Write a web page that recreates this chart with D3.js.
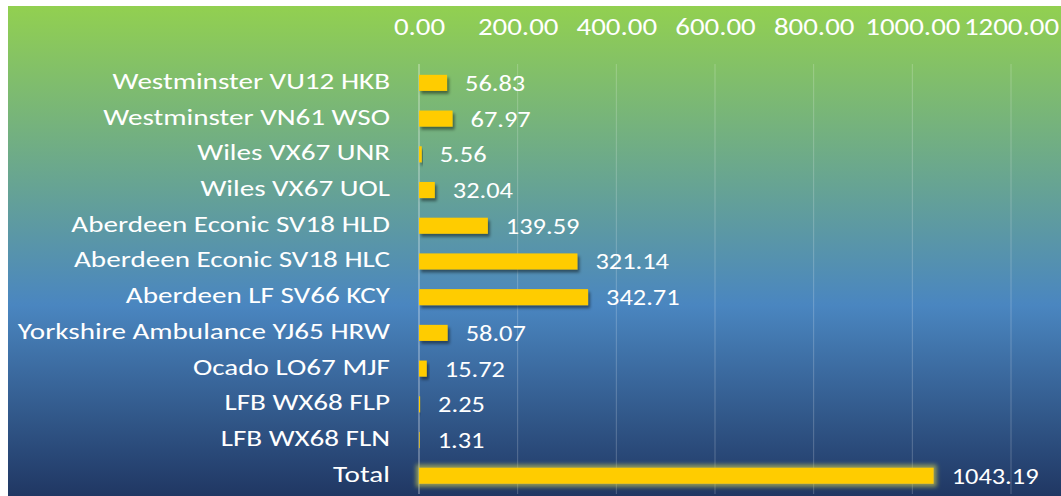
<!DOCTYPE html>
<html>
<head>
<meta charset="utf-8">
<script src="https://cdn.jsdelivr.net/npm/d3@7"></script>
<style>
  html, body { margin: 0; padding: 0; background: #fff; }
  svg text { font-family: Carlito, Calibri, Lato, sans-serif; fill: #fff; }
</style>
</head>
<body>
<div id="chart"></div>
<script>
// vehicles, top to bottom
const vehicles = ["Westminster VU12 HKB", "Westminster VN61 WSO", "Wiles VX67 UNR", "Wiles VX67 UOL",
  "Aberdeen Econic SV18 HLD", "Aberdeen Econic SV18 HLC", "Aberdeen LF SV66 KCY",
  "Yorkshire Ambulance YJ65 HRW", "Ocado LO67 MJF", "LFB WX68 FLP", "LFB WX68 FLN", "Total"];
const values = [56.83, 67.97, 5.56, 32.04, 139.59, 321.14, 342.71, 58.07, 15.72, 2.25, 1.31, 1043.19];
const ticks = [0, 200, 400, 600, 800, 1000, 1200];

const W = 1061, H = 496;
const x0 = 419, x1 = 1011;
const fmt = d3.format(".2f");

const svg = d3.select("#chart").append("svg")
  .attr("width", W).attr("height", H);

const defs = svg.append("defs");
const grad = defs.append("linearGradient").attr("id", "bg")
  .attr("x1", 0).attr("y1", 0).attr("x2", 0).attr("y2", 1);
grad.append("stop").attr("offset", "0%").attr("stop-color", "#92d050");
grad.append("stop").attr("offset", "61%").attr("stop-color", "#4a86c0");
grad.append("stop").attr("offset", "100%").attr("stop-color", "#203763");

// shadow for the bars
const sh = defs.append("filter").attr("id", "shadow")
  .attr("x", "-20%").attr("y", "-50%").attr("width", "150%").attr("height", "220%");
sh.append("feDropShadow").attr("dx", 2).attr("dy", 3).attr("stdDeviation", 1.8)
  .attr("flood-color", "#000").attr("flood-opacity", 0.45);

// glow for the total
const gl = defs.append("filter").attr("id", "glow")
  .attr("x", "-5%").attr("y", "-80%").attr("width", "110%").attr("height", "260%");
gl.append("feMorphology").attr("in", "SourceAlpha").attr("operator", "dilate").attr("radius", 3).attr("result", "d");
gl.append("feGaussianBlur").attr("in", "d").attr("stdDeviation", 2).attr("result", "b");
gl.append("feFlood").attr("flood-color", "#d8d64a").attr("flood-opacity", 0.6);
gl.append("feComposite").attr("in2", "b").attr("operator", "in").attr("result", "g");
const m = gl.append("feMerge");
m.append("feMergeNode").attr("in", "g");
m.append("feMergeNode").attr("in", "SourceGraphic");

svg.append("rect").attr("x", 8).attr("y", 6).attr("width", W - 8).attr("height", H - 6)
  .attr("fill", "url(#bg)");

const xScale = d3.scaleLinear().domain([0, 1200]).range([x0, x1]);
const yScale = d3.scaleBand().domain(vehicles).range([65, 493.6]).paddingInner(0.55).paddingOuter(0.275);
const mid = d => yScale(d) + yScale.bandwidth() / 2;

// gridlines
svg.append("g").selectAll("line").data(ticks).join("line")
  .attr("x1", d => xScale(d)).attr("x2", d => xScale(d))
  .attr("y1", 64).attr("y2", 494)
  .attr("stroke", "#fff").attr("stroke-opacity", d => d === 0 ? 0.55 : 0.22).attr("stroke-width", 1);

// top axis (text is a bit wide in the original, so stretch it)
const xAxis = d3.axisTop(xScale).tickValues(ticks).tickFormat(fmt).tickSize(0);
const ax = svg.append("g").attr("transform", "translate(0,35)").call(xAxis);
ax.select(".domain").remove();
ax.selectAll(".tick text").attr("fill", "#fff").attr("font-size", 24.5)
  .attr("y", 0).attr("dy", 0).attr("transform", "scale(1.18,1)");

// category labels
svg.append("g").selectAll("text").data(vehicles).join("text")
  .attr("transform", d => `translate(390,${mid(d) + 6}) scale(1.25,1)`)
  .attr("text-anchor", "end").attr("font-size", 23.3)
  .text(d => d);

// bars
svg.append("g").selectAll("rect").data(values).join("rect")
  .attr("x", x0)
  .attr("y", (d, i) => yScale(vehicles[i]))
  .attr("width", d => xScale(d) - x0)
  .attr("height", yScale.bandwidth())
  .attr("fill", "#ffcc00")
  .attr("filter", (d, i) => vehicles[i] === "Total" ? "url(#glow)" : "url(#shadow)");

// value labels
svg.append("g").selectAll("text").data(values).join("text")
  .attr("transform", (d, i) => `translate(${xScale(d) + 18},${mid(vehicles[i]) + 8}) scale(1.2,1)`)
  .attr("font-size", 22)
  .text(d => fmt(d));
</script>
</body>
</html>
